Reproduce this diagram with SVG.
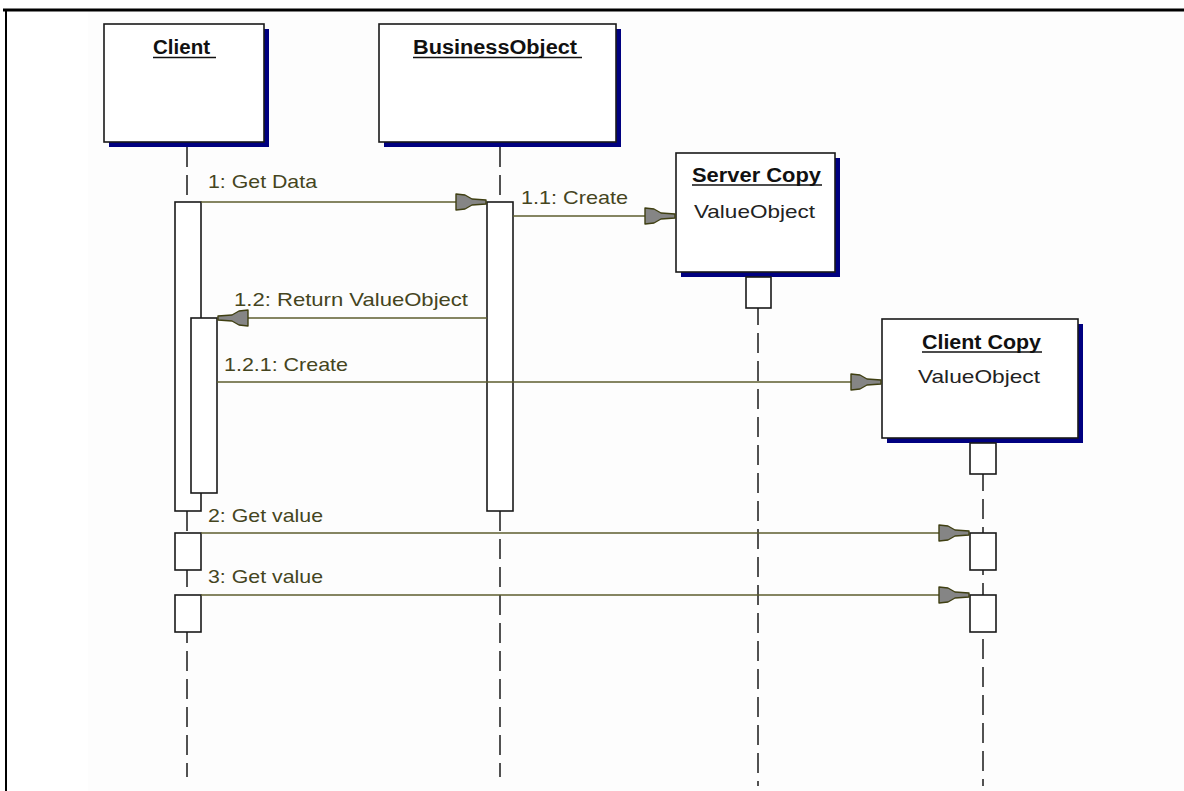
<svg xmlns="http://www.w3.org/2000/svg" width="1184" height="791" viewBox="0 0 1184 791">
<style>
.box{fill:#fff;stroke:#1a1a1a;stroke-width:1.6}
.shadow{fill:#000080}
.act{fill:#fff;stroke:#1a1a1a;stroke-width:1.6}
.life{stroke:#1a1a1a;stroke-width:1.5;stroke-dasharray:20 8;fill:none}
.msg{stroke:#5c5c2e;stroke-width:1.6;fill:none}
.title{font-family:"Liberation Sans",Arial,sans-serif;font-size:20px;font-weight:bold;fill:#111}
.ul{stroke:#111;stroke-width:1.6}
.sub{font-family:"Liberation Sans",Arial,sans-serif;font-size:19px;fill:#222}
.lbl{font-family:"Liberation Sans",Arial,sans-serif;font-size:19px;fill:#45451e}
.head{fill:#858585;stroke:#3f3f12;stroke-width:1.4;stroke-linejoin:round}
</style>
<defs>
<path id="ah" d="M0,-2 L-14,-3 L-21,-7 L-30,-8 L-30,8 L-21,7 L-14,3 L0,2 Z"/>
</defs>
<rect x="0" y="0" width="1184" height="791" fill="#fff"/>
<rect x="88" y="11" width="1096" height="780" fill="#fdfdfd"/>
<line x1="3" y1="10" x2="1184" y2="10" stroke="#000" stroke-width="3"/>
<line x1="6" y1="9" x2="6" y2="791" stroke="#000" stroke-width="2"/>

<g id="lifelines">
<line class="life" x1="187" y1="147" x2="187" y2="777"/>
<line class="life" x1="500" y1="147" x2="500" y2="777"/>
<line class="life" x1="758" y1="277" x2="758" y2="786"/>
<line class="life" x1="983" y1="443" x2="983" y2="786"/>
</g>

<g id="client">
<rect class="shadow" x="109" y="29" width="160" height="118"/>
<rect class="box" x="104" y="24" width="160" height="118"/>
<text class="title" x="153" y="54" textLength="57" lengthAdjust="spacingAndGlyphs">Client</text>
<line class="ul" x1="153" y1="57.5" x2="216" y2="57.5"/>
<rect class="act" x="175" y="202" width="26" height="309"/>
<rect class="act" x="191" y="318" width="26" height="175"/>
<rect class="act" x="175" y="533" width="26" height="37"/>
<rect class="act" x="175" y="595" width="26" height="37"/>
</g>

<g id="businessobject">
<rect class="shadow" x="384" y="29" width="237" height="118"/>
<rect class="box" x="379" y="24" width="237" height="118"/>
<text class="title" x="413" y="54" textLength="164" lengthAdjust="spacingAndGlyphs">BusinessObject</text>
<line class="ul" x1="413" y1="57.5" x2="582" y2="57.5"/>
<rect class="act" x="487" y="202" width="26" height="309"/>
</g>

<g id="servercopy">
<rect class="shadow" x="681" y="158" width="159" height="119"/>
<rect class="box" x="676" y="153" width="159" height="119"/>
<text class="title" x="692" y="182" textLength="129" lengthAdjust="spacingAndGlyphs">Server Copy</text>
<line class="ul" x1="692" y1="185" x2="822" y2="185"/>
<text class="sub" x="694" y="218" textLength="121" lengthAdjust="spacingAndGlyphs">ValueObject</text>
<rect class="act" x="746" y="277" width="25" height="31"/>
</g>

<g id="clientcopy">
<rect class="shadow" x="887" y="324" width="196" height="119"/>
<rect class="box" x="882" y="319" width="196" height="119"/>
<text class="title" x="922" y="349" textLength="119" lengthAdjust="spacingAndGlyphs">Client Copy</text>
<line class="ul" x1="922" y1="352" x2="1042" y2="352"/>
<text class="sub" x="918" y="383" textLength="122" lengthAdjust="spacingAndGlyphs">ValueObject</text>
<rect class="act" x="970" y="443" width="26" height="31"/>
<rect class="act" x="970" y="533" width="26" height="37"/>
<rect class="act" x="970" y="595" width="26" height="37"/>
</g>

<g id="connectors">
<line class="msg" x1="201" y1="202" x2="470" y2="202"/>
<use href="#ah" class="head" transform="translate(486,202)"/>
<text class="lbl" x="208" y="188" textLength="109" lengthAdjust="spacingAndGlyphs">1: Get Data</text>

<line class="msg" x1="513" y1="216" x2="660" y2="216"/>
<use href="#ah" class="head" transform="translate(675,216)"/>
<text class="lbl" x="521" y="204" textLength="107" lengthAdjust="spacingAndGlyphs">1.1: Create</text>

<line class="msg" x1="487" y1="318" x2="235" y2="318"/>
<use href="#ah" class="head" transform="translate(218,318) scale(-1,1)"/>
<text class="lbl" x="234" y="306" textLength="234" lengthAdjust="spacingAndGlyphs">1.2: Return ValueObject</text>

<line class="msg" x1="217" y1="382" x2="865" y2="382"/>
<use href="#ah" class="head" transform="translate(881,382)"/>
<text class="lbl" x="224" y="371" textLength="124" lengthAdjust="spacingAndGlyphs">1.2.1: Create</text>

<line class="msg" x1="201" y1="533" x2="954" y2="533"/>
<use href="#ah" class="head" transform="translate(969,533)"/>
<text class="lbl" x="208" y="522" textLength="115" lengthAdjust="spacingAndGlyphs">2: Get value</text>

<line class="msg" x1="201" y1="595" x2="954" y2="595"/>
<use href="#ah" class="head" transform="translate(969,595)"/>
<text class="lbl" x="208" y="583" textLength="115" lengthAdjust="spacingAndGlyphs">3: Get value</text>
</g>
</svg>
